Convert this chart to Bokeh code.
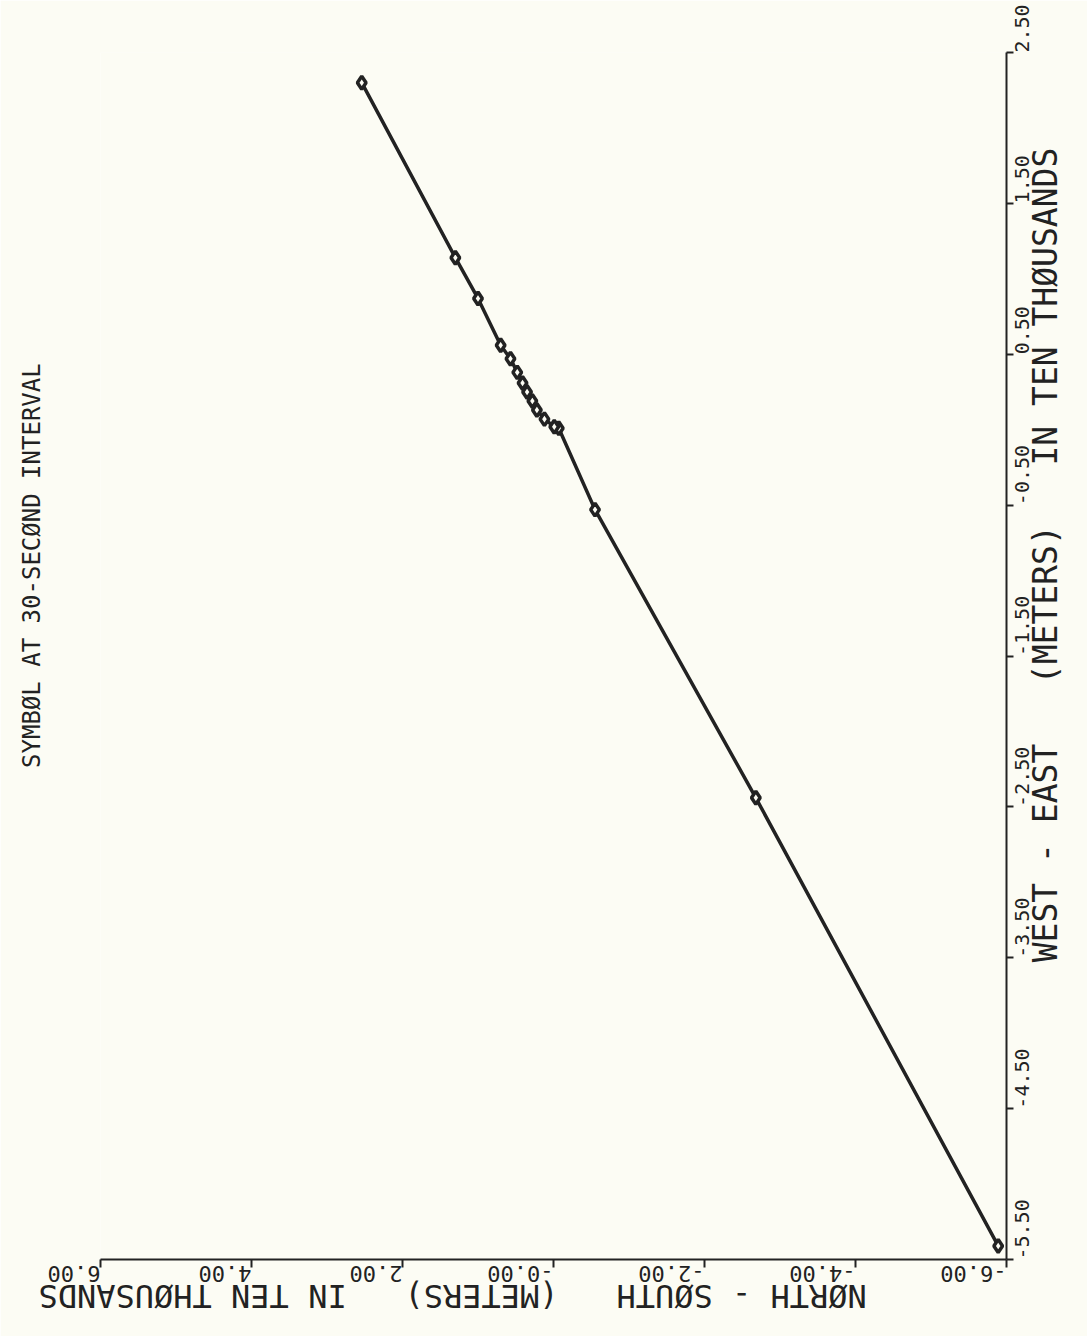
import math
from bokeh.plotting import figure
from bokeh.models import Range1d, FixedTicker, LinearAxis
from bokeh.embed import file_html
from bokeh.resources import INLINE

# ---- data ----
# north-south position (ten-thousands of metres)
north = [-5.89, -2.68, -0.55, -0.07, -0.01, 0.12, 0.22, 0.28, 0.35, 0.41, 0.48, 0.57,
         0.70, 1.00, 1.30, 2.54]
# west-east position (ten-thousands of metres)
east = [-5.41, -2.44, -0.53, 0.01, 0.02, 0.07, 0.13, 0.19, 0.25, 0.31, 0.38, 0.47,
        0.56, 0.87, 1.14, 2.30]

ns_ticks = [6.0, 4.0, 2.0, 0.0, -2.0, -4.0, -6.0]
ns_labels = ["6.00", "4.00", "2.00", "-0.00", "-2.00", "-4.00", "-6.00"]
we_ticks = [2.5, 1.5, 0.5, -0.5, -1.5, -2.5, -3.5, -4.5, -5.5]
we_labels = ["2.50", "1.50", "0.50", "-0.50", "-1.50", "-2.50", "-3.50", "-4.50", "-5.50"]

NB = "\u00a0"
title_text = "SYMBØL AT 30-SECØND INTERVAL"
ns_title = "NØRTH - SØUTH " + NB + " (METERS) " + NB + " IN TEN THØUSANDS"
we_title = "WEST - EAST " + NB + " (METERS) " + NB + " IN TEN THØUSANDS"

# where the plotter started / ended each caption (in axis units)
title_end_we = 0.44      # title ends here (west-east scale)
ns_title_start = -4.15   # north-south caption starts here
we_title_start = -3.53   # west-east caption starts here

BG = "#fcfcf4"
INK = "#222222"
FONT = "DejaVu Sans Mono"

p = figure(width=1087, height=1336,
           x_range=Range1d(6, -6), y_range=Range1d(-5.5, 2.5),
           x_axis_location="below", y_axis_location="right",
           output_backend="svg", toolbar_location=None,
           min_border_left=100, min_border_top=52,
           min_border_right=40, min_border_bottom=40)

p.background_fill_color = BG
p.border_fill_color = BG
p.outline_line_color = None
p.xgrid.visible = False
p.ygrid.visible = False


def style(ax, size):
    ax.minor_tick_line_color = None
    ax.major_tick_in = 0
    ax.axis_line_color = INK
    ax.axis_line_width = 2
    ax.major_tick_line_color = INK
    ax.major_tick_line_width = 2
    ax.major_label_text_font = FONT
    ax.major_label_text_font_size = size
    ax.major_label_text_color = INK


xax = p.xaxis[0]
yax = p.yaxis[0]
for ax, ticks, labels, size in ((xax, ns_ticks, ns_labels, "22px"),
                                (yax, we_ticks, we_labels, "20px")):
    ax.ticker = FixedTicker(ticks=ticks)
    ax.major_label_overrides = {t: l for t, l in zip(ticks, labels)}
    style(ax, size)

xax.major_tick_out = 8
yax.major_tick_out = 7
xax.major_label_orientation = -math.pi
yax.major_label_orientation = math.pi / 2
xax.major_label_standoff = 6
yax.major_label_standoff = 8


def caption_axis(pos, text, size, orient, standoff):
    a = LinearAxis(ticker=FixedTicker(ticks=[pos]),
                   major_label_overrides={pos: text})
    style(a, size)
    a.axis_line_color = None
    a.major_tick_line_color = None
    a.major_tick_out = 0
    a.major_label_orientation = orient
    a.major_label_standoff = standoff
    return a


p.add_layout(caption_axis(ns_title_start, ns_title, "32px", -math.pi, 3), "below")
p.add_layout(caption_axis(we_title_start, we_title, "33px", math.pi / 2, 7), "right")
p.add_layout(caption_axis(title_end_we, title_text, "24px", math.pi / 2, 68), "left")

p.line(north, east, line_color=INK, line_width=3.5)
p.scatter(north, east, marker="diamond", size=13, line_color=INK,
          line_width=3.5, fill_color=BG)

open("out.html", "w").write(file_html(p, INLINE))
